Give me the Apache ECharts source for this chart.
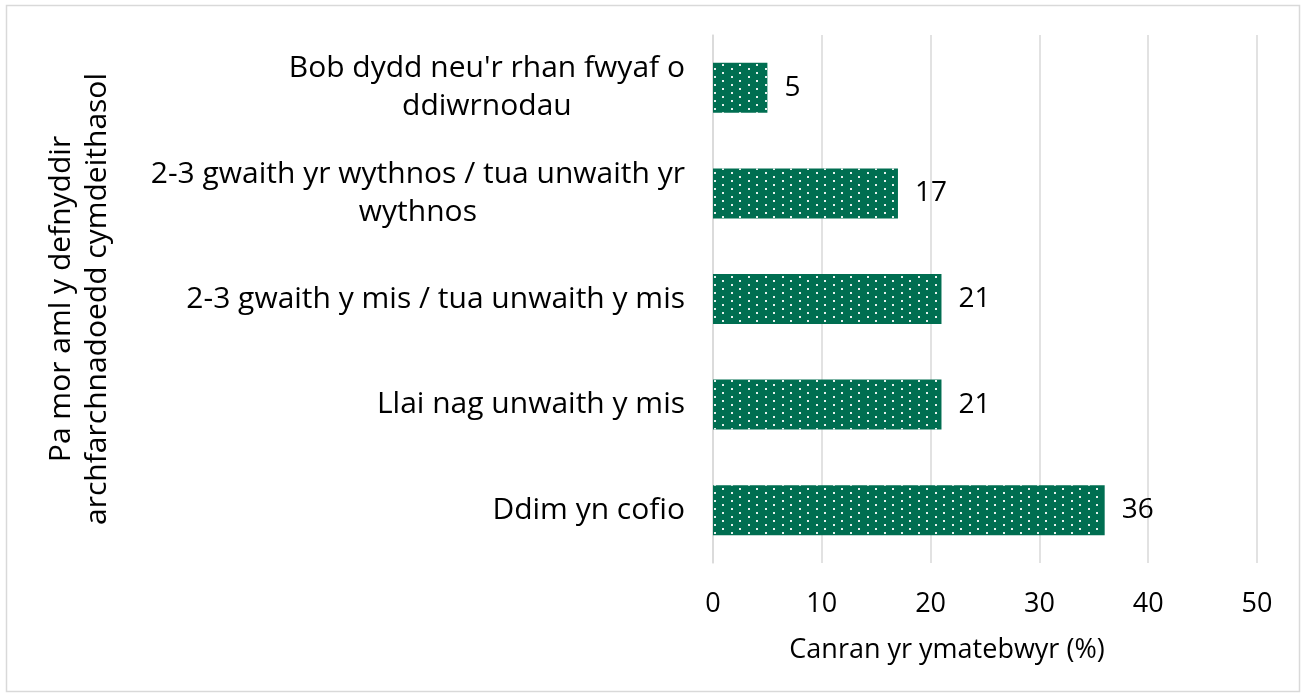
<!DOCTYPE html>
<html>
<head>
<meta charset="utf-8">
<script src="https://cdn.jsdelivr.net/npm/echarts@6/dist/echarts.min.js"></script>
<style>
  html, body { margin: 0; padding: 0; background: #fff; }
  #chart { width: 1307px; height: 697px; }
</style>
</head>
<body>
<div id="chart"></div>
<script>
// categories top to bottom
var categories = [
  "Bob dydd neu'r rhan fwyaf o\nddiwrnodau",
  '2-3 gwaith yr wythnos / tua unwaith yr\nwythnos',
  '2-3 gwaith y mis / tua unwaith y mis',
  'Llai nag unwaith y mis',
  'Ddim yn cofio'
]
var values = [5, 17, 21, 21, 36]
var xTicks = [0, 10, 20, 30, 40, 50]
var xName = 'Canran yr ymatebwyr (%)'
var yName = 'Pa mor aml y defnyddir\narchfarchnadoedd cymdeithasol'

var font = 'Open Sans'
var chart = echarts.init(document.getElementById('chart'))

chart.setOption({
  animation: false,
  textStyle: { fontFamily: font },
  graphic: [{
    type: 'rect',
    shape: { x: 6.5, y: 5.5, width: 1293, height: 686 },
    style: { fill: 'none', stroke: '#d9d9d9', lineWidth: 1.5 }
  }],
  grid: { left: 713, right: 50, top: 35, bottom: 134 },
  xAxis: {
    type: 'value',
    min: xTicks[0],
    max: xTicks[xTicks.length - 1],
    interval: 10,
    name: xName,
    nameLocation: 'middle',
    nameGap: 74,
    nameTextStyle: { fontSize: 27, color: '#000', fontFamily: font, padding: [0, 76, 0, 0] },
    axisLine: { show: false },
    axisTick: { show: false },
    axisLabel: { fontSize: 27, color: '#000', margin: 28, fontFamily: font },
    splitLine: { lineStyle: { color: '#d9d9d9', width: 1.5 } }
  },
  yAxis: {
    type: 'category',
    inverse: true,
    data: categories,
    name: yName,
    nameLocation: 'middle',
    nameRotate: 90,
    nameGap: 598,
    nameTextStyle: { fontSize: 30, color: '#000', lineHeight: 36, fontFamily: font },
    axisLine: { lineStyle: { color: '#d9d9d9', width: 1.5 } },
    axisTick: { length: 8, lineStyle: { color: '#d9d9d9', width: 1.5 } },
    axisLabel: {
      fontSize: 30,
      color: '#000',
      margin: 28,
      lineHeight: 38,
      fontFamily: font,
      formatter: function (v) {
        return v.split('\n').map(function (l) { return '{c|' + l + '}' }).join('\n')
      },
      rich: { c: { align: 'center', fontSize: 30, lineHeight: 38, color: '#000', fontFamily: font } }
    }
  },
  series: [{
    type: 'bar',
    data: values,
    barWidth: 50,
    itemStyle: {
      color: '#006E51',
      decal: {
        symbol: 'rect',
        symbolSize: 1,
        color: 'rgba(255,255,255,0.9)',
        dashArrayX: [[2, 15], [0, 8, 2, 7]],
        dashArrayY: [2, 2],
        rotation: 0
      }
    },
    label: {
      show: true,
      position: 'right',
      distance: 17,
      fontSize: 28,
      color: '#000',
      fontFamily: font
    }
  }]
})
</script>
</body>
</html>
